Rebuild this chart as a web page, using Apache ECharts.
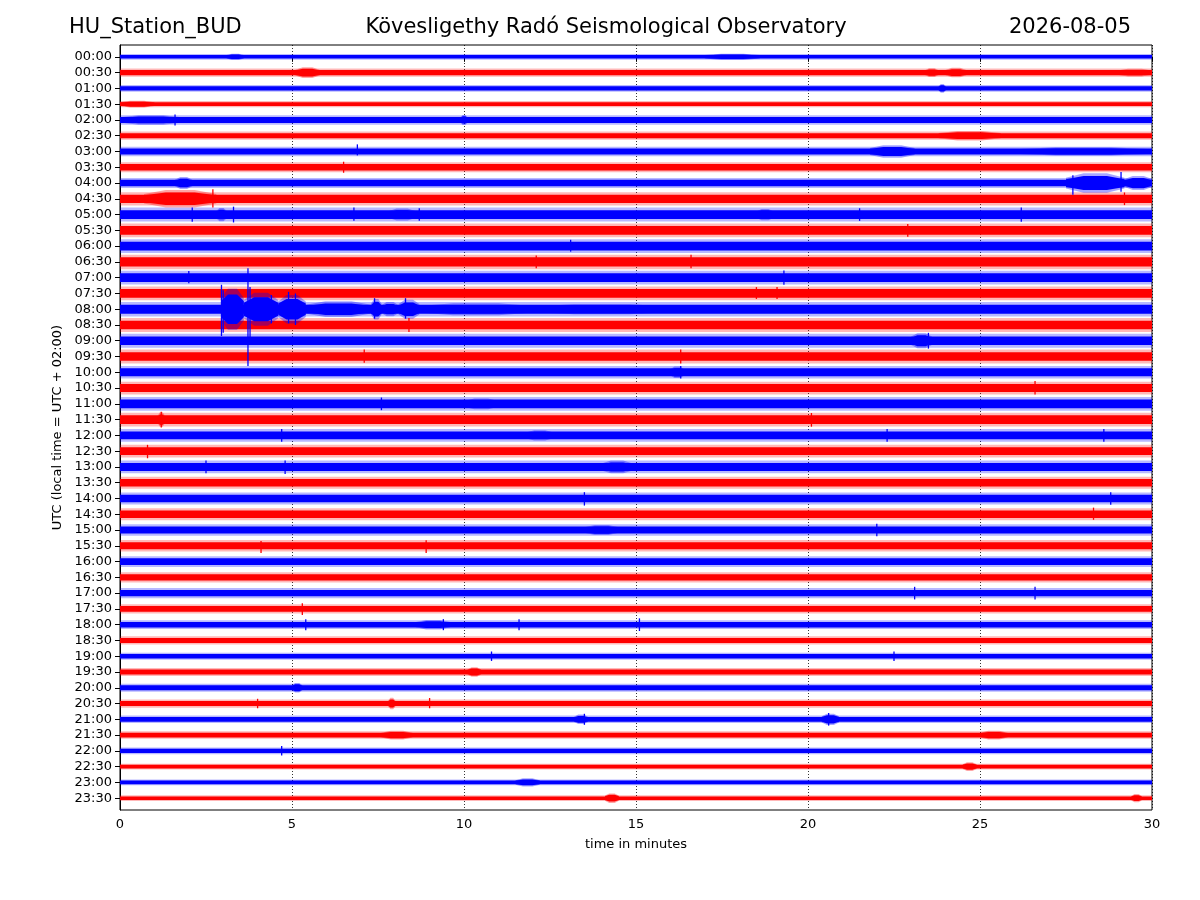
<!DOCTYPE html>
<html>
<head>
<meta charset="utf-8">
<script src="https://cdn.jsdelivr.net/npm/echarts@6/dist/echarts.min.js"></script>
<style>
html,body{margin:0;padding:0;background:#fff;}
#chart{width:1200px;height:900px;}
</style>
</head>
<body>
<div id="chart"></div>
<script>
const stationName = "HU_Station_BUD";
const observatory = "Kövesligethy Radó Seismological Observatory";
const dateLabel = "2026-08-05";
const xTicks = [0, 5, 10, 15, 20, 25, 30];
// row labels (UTC), one per 30-minute trace
const rowLabels = ["00:00","00:30","01:00","01:30","02:00","02:30","03:00","03:30",
  "04:00","04:30","05:00","05:30","06:00","06:30","07:00","07:30",
  "08:00","08:30","09:00","09:30","10:00","10:30","11:00","11:30",
  "12:00","12:30","13:00","13:30","14:00","14:30","15:00","15:30",
  "16:00","16:30","17:00","17:30","18:00","18:30","19:00","19:30",
  "20:00","20:30","21:00","21:30","22:00","22:30","23:00","23:30"];
// typical half-amplitude of the background noise of each trace (in trace spacings)
const baseAmp = [0.09,0.13,0.11,0.10,0.15,0.13,0.15,0.16,0.16,0.21,0.22,0.22,
  0.22,0.23,0.22,0.22,0.23,0.22,0.22,0.22,0.20,0.20,0.22,0.22,
  0.20,0.20,0.20,0.19,0.19,0.19,0.18,0.18,0.17,0.16,0.16,0.15,
  0.14,0.13,0.11,0.13,0.13,0.13,0.12,0.12,0.11,0.09,0.09,0.09];
// bursts of larger amplitude: [trace, start min, end min, peak half-amplitude]
const bursts = [
  [0,3.1,3.6,0.2],[0,17.0,18.6,0.2],
  [1,5.1,5.8,0.34],[1,23.4,23.8,0.28],[1,24.0,24.6,0.3],[1,29.0,30,0.24],
  [2,23.8,24.0,0.28],[3,0,1.0,0.22],
  [4,0,1.8,0.3],[4,9.9,10.1,0.32],
  [5,23.8,25.6,0.3],
  [6,21.8,23.1,0.4],[6,26.0,30,0.26],
  [8,1.6,2.1,0.38],[8,27.5,29.2,0.62],[8,29.2,30,0.45],
  [9,0.7,2.8,0.55],
  [10,2.8,3.1,0.42],[10,7.8,8.6,0.38],[10,18.5,19.0,0.36],
  [16,2.94,3.6,1.3],[16,3.6,4.6,1.05],[16,4.6,5.4,0.9],[16,5.4,7.3,0.5],
  [16,7.3,7.6,0.65],[16,7.6,8.1,0.45],[16,8.1,8.7,0.6],[16,8.7,12,0.38],[16,12,16,0.32],
  [18,23.0,23.6,0.48],[20,16.0,16.4,0.36],[22,10.0,11.0,0.34],[23,1.1,1.3,0.46],
  [24,11.8,12.6,0.32],[26,14.0,14.9,0.4],[30,13.5,14.5,0.32],
  [36,8.6,9.6,0.3],[39,10.1,10.5,0.3],[40,5.0,5.3,0.3],[41,7.8,8.0,0.36],
  [42,13.2,13.6,0.3],[42,20.4,20.9,0.36],[43,7.6,8.5,0.28],[43,25.0,25.8,0.28],
  [45,24.5,24.9,0.28],[46,11.5,12.2,0.26],[47,14.1,14.5,0.3],[47,29.4,29.7,0.26]
];
// single spikes: [trace, minute, reach up, reach down] (trace spacings)
const spikes = [
  [16,2.95,1.55,1.7],[16,3.0,1.2,1.5],[16,3.72,2.6,3.6],[16,3.78,1.4,1.9],
  [16,4.4,0.9,0.9],[16,4.9,1.1,0.9],[16,5.1,1.0,1.0],[16,7.4,0.7,0.6],[16,8.3,0.7,0.6],
  [4,1.6,0.35,0.35],[6,6.9,0.45,0.25],[7,6.5,0.35,0.35],[9,2.7,0.6,0.55],
  [10,2.1,0.45,0.45],[10,3.3,0.5,0.5],[10,6.8,0.45,0.4],[10,8.7,0.4,0.4],
  [10,21.5,0.4,0.4],[10,26.2,0.45,0.45],[8,27.7,0.5,0.75],[8,29.1,0.7,0.55],[9,29.2,0.4,0.4],
  [11,22.9,0.4,0.4],[12,13.1,0.4,0.35],[13,12.1,0.4,0.4],[13,16.6,0.45,0.4],[14,2.0,0.42,0.35],
  [14,19.3,0.45,0.45],[15,18.5,0.4,0.35],[15,19.1,0.4,0.35],[17,8.4,0.45,0.45],
  [18,23.5,0.5,0.5],[19,7.1,0.45,0.4],[19,16.3,0.45,0.45],[20,16.3,0.4,0.4],
  [21,26.6,0.45,0.4],[22,7.6,0.4,0.4],[23,1.2,0.5,0.5],[23,20.1,0.42,0.45],
  [24,4.7,0.4,0.4],[24,22.3,0.4,0.4],[24,28.6,0.4,0.4],[25,0.8,0.4,0.45],[26,2.5,0.4,0.4],
  [26,4.8,0.4,0.45],[28,13.5,0.4,0.45],[28,28.8,0.4,0.4],[29,28.3,0.42,0.35],[30,22.0,0.4,0.4],
  [31,4.1,0.3,0.45],[31,8.9,0.35,0.45],[34,23.1,0.4,0.4],[34,26.6,0.4,0.4],[35,5.3,0.35,0.38],
  [36,5.4,0.35,0.35],[36,9.4,0.35,0.35],[36,11.6,0.35,0.35],[36,15.1,0.4,0.4],
  [38,10.8,0.3,0.3],[38,22.5,0.3,0.3],[41,4.0,0.3,0.3],[41,9.0,0.35,0.3],
  [42,13.5,0.35,0.35],[42,20.6,0.4,0.4],[44,4.7,0.3,0.3]
];

// ---------- CHART ----------
const BLUE = "#0000ff", RED = "#ff0000";
function colorOf(i){ return i % 2 === 0 ? BLUE : RED; }
const traceIdx = rowLabels.map((_, i) => i);

const chart = echarts.init(document.getElementById("chart"), null, {renderer: "canvas"});

function bandItem(params, api){
  const i = api.value(0), a = api.value(1);
  const p0 = api.coord([0, i]), p1 = api.coord([30, i]);
  const s = Math.abs(api.coord([0, i + a])[1] - p0[1]);
  const c = colorOf(i);
  return {type: "group", children: [
    {type: "rect", shape: {x: p0[0], y: p0[1] - s * 2.0, width: p1[0] - p0[0], height: s * 4.0},
     style: {fill: c, opacity: 0.28}},
    {type: "rect", shape: {x: p0[0], y: p0[1] - s * 1.25, width: p1[0] - p0[0], height: s * 2.5},
     style: {fill: c}}
  ]};
}
function burstItem(params, api){
  const i = api.value(0), x0 = api.value(1), x1 = api.value(2), a = api.value(3);
  const t = (x1 - x0) * 0.3;
  const c = colorOf(i);
  function poly(k){
    const e = a * k * 0.55;
    const pts = [[x0, i - e], [x0 + t, i - a * k], [x1 - t, i - a * k], [x1, i - e],
                 [x1, i + e], [x1 - t, i + a * k], [x0 + t, i + a * k], [x0, i + e]];
    return pts.map(p => api.coord(p));
  }
  return {type: "group", children: [
    {type: "polygon", shape: {points: poly(1.0)}, style: {fill: c, opacity: 0.35}},
    {type: "polygon", shape: {points: poly(0.72)}, style: {fill: c}}
  ]};
}
function spikeItem(params, api){
  const i = api.value(0), x = api.value(1), up = api.value(2), dn = api.value(3);
  const a = api.coord([x, i - up]), b = api.coord([x, i + dn]);
  return {type: "line", shape: {x1: a[0], y1: a[1], x2: b[0], y2: b[1]},
          style: {stroke: colorOf(i), lineWidth: 1.3}};
}

const option = {
  animation: false,
  backgroundColor: "#ffffff",
  textStyle: {fontFamily: "DejaVu Sans"},
  grid: {left: 120, right: 48, top: 45, bottom: 90, show: true, borderColor: "#000", borderWidth: 1, backgroundColor: "transparent"},
  graphic: [
    {type: "text", x: 69, y: 28, style: {text: stationName, font: "21px 'DejaVu Sans'", fill: "#000", textAlign: "left", textVerticalAlign: "middle"}},
    {type: "text", x: 606, y: 28, style: {text: observatory, font: "21px 'DejaVu Sans'", fill: "#000", textAlign: "center", textVerticalAlign: "middle"}},
    {type: "text", x: 1131, y: 28, style: {text: dateLabel, font: "21px 'DejaVu Sans'", fill: "#000", textAlign: "right", textVerticalAlign: "middle"}}
  ],
  xAxis: {
    type: "value", min: 0, max: 30, interval: 5,
    name: "time in minutes", nameLocation: "middle", nameGap: 28,
    nameTextStyle: {fontSize: 13, color: "#000", fontFamily: "DejaVu Sans"},
    axisLine: {show: true, lineStyle: {color: "#000", width: 1}},
    axisTick: {show: true, length: 5, inside: false, lineStyle: {color: "#000"}},
    axisLabel: {fontSize: 13, color: "#000", margin: 8, fontFamily: "DejaVu Sans",
      formatter: v => xTicks.indexOf(v) >= 0 ? String(v) : ""},
    splitLine: {show: true, lineStyle: {color: "#000", type: [1, 2], width: 0.8}}
  },
  yAxis: {
    type: "value", inverse: true, min: -0.75, max: 47.75,
    name: "UTC (local time = UTC + 02:00)", nameLocation: "middle", nameGap: 56,
    nameTextStyle: {fontSize: 13, color: "#000", fontFamily: "DejaVu Sans"},
    axisLine: {show: true, lineStyle: {color: "#000", width: 1}},
    axisTick: {show: true, length: 5, customValues: traceIdx, lineStyle: {color: "#000"}},
    axisLabel: {fontSize: 13, color: "#000", margin: 8, fontFamily: "DejaVu Sans",
      customValues: traceIdx, formatter: v => rowLabels[Math.round(v)] || ""},
    splitLine: {show: false}
  },
  series: [
    {type: "custom", name: "noise", clip: true, renderItem: bandItem,
     data: baseAmp.map((a, i) => [i, a]), encode: {x: -1, y: 0}, silent: true},
    {type: "custom", name: "bursts", clip: true, renderItem: burstItem,
     data: bursts, encode: {x: [1, 2], y: 0}, silent: true},
    {type: "custom", name: "spikes", clip: true, renderItem: spikeItem,
     data: spikes, encode: {x: 1, y: 0}, silent: true}
  ]
};
chart.setOption(option);
</script>
</body>
</html>
